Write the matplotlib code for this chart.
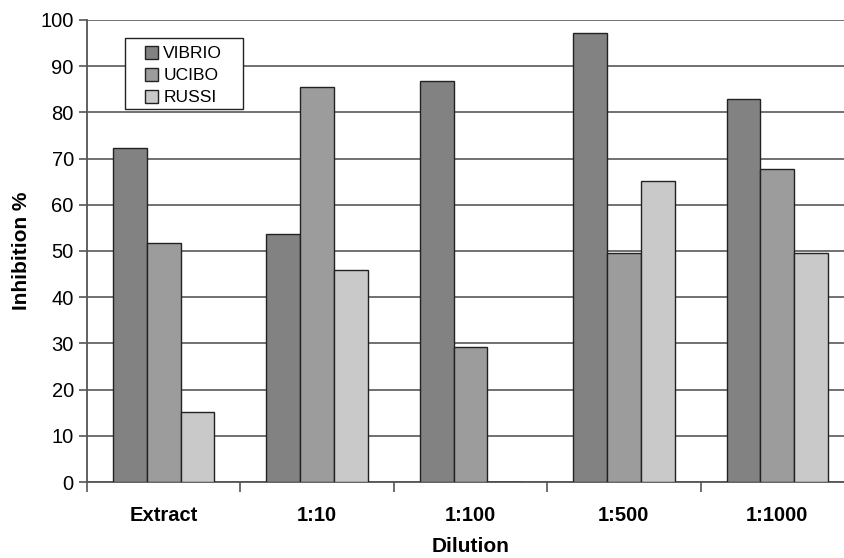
import numpy as np
import matplotlib.pyplot as plt
from matplotlib.patches import Rectangle

plt.rcParams['font.family'] = ['Liberation Sans', 'DejaVu Sans']

categories = ["Extract", "1:10", "1:100", "1:500", "1:1000"]
series = ["VIBRIO", "UCIBO", "RUSSI"]
vibrio = [72.4, 53.6, 86.8, 97.1, 82.8]
ucibo = [51.7, 85.5, 29.3, 49.5, 67.7]
russi = [15.1, 45.8, 0, 65.2, 49.6]
colors = ["#828282", "#9c9c9c", "#c9c9c9"]

fig = plt.figure(figsize=(8.44, 5.58), dpi=100)
ax = fig.add_axes([87/844, 76/558, 767/844, 462/558])

x = np.arange(len(categories))
w = 0.22
for i, (vals, name) in enumerate(zip([vibrio, ucibo, russi], series)):
    ax.bar(x + (i - 1) * w, vals, w, color=colors[i], edgecolor="#222222",
           linewidth=1.0, label=name, zorder=3)

ax.set_xlim(-0.5, 4.5)
ax.set_ylim(0, 100)
ax.set_yticks(range(0, 101, 10))
ax.set_xticks(x)
ax.set_xticklabels(categories, fontsize=14.5, fontweight="bold")
ax.set_xticks(np.arange(-0.5, 4.6, 1), minor=True)
ax.tick_params(axis="x", which="major", length=0, pad=17)
ax.tick_params(axis="x", which="minor", length=7, color="#555555", width=1.2)
ax.tick_params(axis="y", labelsize=14.5, length=6, color="#555555", width=1.2)
ax.grid(axis="y", color="#666666", linewidth=1.3, zorder=0)

for s in ["top", "right"]:
    ax.spines[s].set_visible(False)
for s in ["left", "bottom"]:
    ax.spines[s].set_color("#555555")
    ax.spines[s].set_linewidth(1.3)

ax.set_ylabel("Inhibition %", fontsize=15, fontweight="bold", labelpad=7)
ax.set_xlabel("Dilution", fontsize=15, fontweight="bold", labelpad=9)

# legend without its own frame, box drawn separately to get the wide padding
box = Rectangle((38/767, 1 - 109/462 + 20/462), 118/767, 71/462,
                transform=ax.transAxes, facecolor="white", edgecolor="#222222",
                linewidth=1.0, zorder=4)
ax.add_patch(box)
leg = ax.legend(loc="upper left", bbox_to_anchor=(58/767, 1 - 26/462),
                fontsize=12.5, frameon=False, handlelength=0.75,
                handleheight=0.75, handletextpad=0.3, borderpad=0,
                labelspacing=0.38, borderaxespad=0)
leg.set_zorder(5)

fig.savefig("out.png", dpi=100)
